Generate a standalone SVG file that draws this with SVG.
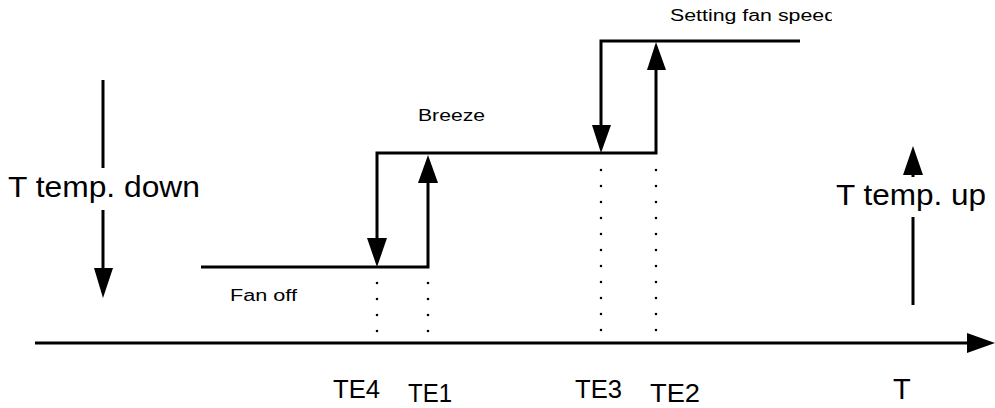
<svg xmlns="http://www.w3.org/2000/svg" width="995" height="408" viewBox="0 0 995 408">
<style>
.ln{stroke:#000;stroke-width:3;fill:none}
.ah{fill:#000;stroke:none}
.dot{stroke:#000;stroke-width:2.6;stroke-linecap:round;stroke-dasharray:0 16;fill:none}
.big{font-family:"Liberation Sans",Arial,sans-serif;font-size:29px;fill:#000}
.te{font-family:"Liberation Sans",Arial,sans-serif;font-size:26px;fill:#000}
.sm{font-family:"Liberation Sans",Arial,sans-serif;font-size:16px;fill:#000}
</style>
<defs>
<clipPath id="clipTop"><rect x="0" y="0" width="832" height="40"/></clipPath>
</defs>
<rect width="995" height="408" fill="#fff"/>
<g id="connectors">
<!-- time axis -->
<line class="ln" x1="35" y1="343" x2="970" y2="343"/>
<polygon class="ah" points="967,333 995,343 967,353"/>
<!-- step curve -->
<polyline class="ln" points="201,267 428,267 428,180"/>
<polyline class="ln" points="377,240 377,153 656,153 656,68"/>
<polyline class="ln" points="601,126 601,41 800,41"/>
<polygon class="ah" points="367,238 387,238 377,267"/>
<polygon class="ah" points="418,183 438,183 428,155"/>
<polygon class="ah" points="592,125 611,125 601,153"/>
<polygon class="ah" points="647,70 666,70 656,42"/>
<!-- dotted projections -->
<line class="dot" x1="377" y1="283" x2="377" y2="332"/>
<line class="dot" x1="428" y1="283" x2="428" y2="332"/>
<line class="dot" x1="601" y1="170" x2="601" y2="331"/>
<line class="dot" x1="656" y1="170" x2="656" y2="331"/>
<!-- temp down arrow -->
<line class="ln" x1="103" y1="80" x2="103" y2="168"/>
<line class="ln" x1="103" y1="210" x2="103" y2="272"/>
<polygon class="ah" points="94,268 113,268 103,298"/>
<!-- temp up arrow -->
<line class="ln" x1="913" y1="172" x2="913" y2="177"/>
<line class="ln" x1="913" y1="217" x2="913" y2="305"/>
<polygon class="ah" points="903,175 923,175 913,146"/>
</g>
<g id="label-temp-down"><text class="big" x="8" y="197" textLength="192" lengthAdjust="spacingAndGlyphs">T temp. down</text></g>
<g id="label-temp-up"><text class="big" x="836" y="205" textLength="150" lengthAdjust="spacingAndGlyphs">T temp. up</text></g>
<g id="label-fan-off"><text class="sm" x="230" y="301" textLength="67" lengthAdjust="spacingAndGlyphs">Fan off</text></g>
<g id="label-breeze"><text class="sm" x="418" y="121" textLength="67" lengthAdjust="spacingAndGlyphs">Breeze</text></g>
<g id="label-setting"><text class="sm" x="670" y="21" font-size="17" textLength="166" lengthAdjust="spacingAndGlyphs" clip-path="url(#clipTop)">Setting fan speed</text></g>
<g id="TE4"><text class="te" x="333" y="398" textLength="47" lengthAdjust="spacingAndGlyphs">TE4</text></g>
<g id="TE1"><text class="te" x="408" y="402" textLength="44" lengthAdjust="spacingAndGlyphs">TE1</text></g>
<g id="TE3"><text class="te" x="575" y="398" textLength="47" lengthAdjust="spacingAndGlyphs">TE3</text></g>
<g id="TE2"><text class="te" x="650" y="402" textLength="50" lengthAdjust="spacingAndGlyphs">TE2</text></g>
<g id="T-axis"><text class="big" x="893" y="399">T</text></g>
</svg>
